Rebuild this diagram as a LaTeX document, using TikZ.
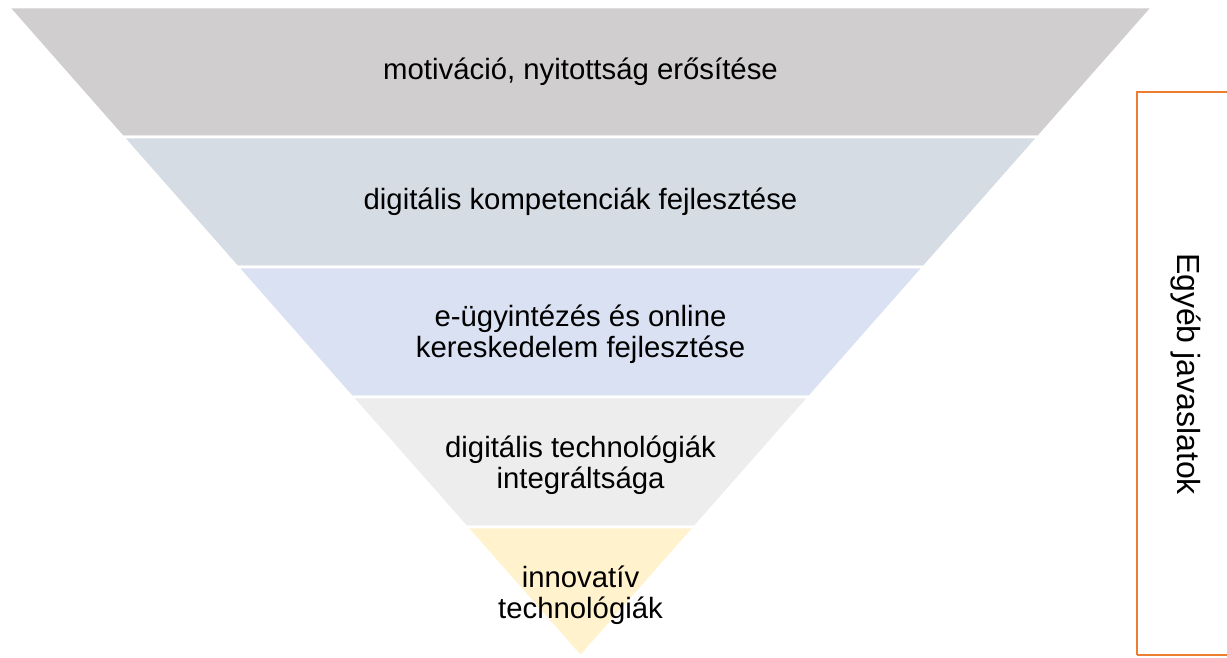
\documentclass[tikz,border=0pt]{standalone}
\usepackage{fontspec}
\setmainfont{Liberation Sans}
\definecolor{tier1}{HTML}{D0CECE}
\definecolor{tier2}{HTML}{D6DCE4}
\definecolor{tier3}{HTML}{D9E1F2}
\definecolor{tier4}{HTML}{EDEDED}
\definecolor{tier5}{HTML}{FFF2CC}
\definecolor{frame}{HTML}{ED7D31}
\begin{document}
\begin{tikzpicture}[x=0.75pt,y=-0.75pt]
  \tikzstyle{tier}=[draw=white, line width=2.2pt, line join=miter]
  \tikzstyle{tiertext}=[align=center, inner sep=0pt, font=\fontsize{22}{23}\selectfont]

  \useasboundingbox (0,0) rectangle (1227,657);
  \clip (0,0) rectangle (1227,657);

  % inverted pyramid, five tiers
  \filldraw[tier, fill=tier1] (8,7) -- (1153,7) -- (1038.5,137) -- (122.5,137) -- cycle;
  \filldraw[tier, fill=tier2] (122.5,137) -- (1038.5,137) -- (924,267) -- (237,267) -- cycle;
  \filldraw[tier, fill=tier3] (237,267) -- (924,267) -- (809.5,397) -- (351.5,397) -- cycle;
  \filldraw[tier, fill=tier4] (351.5,397) -- (809.5,397) -- (695,527) -- (466,527) -- cycle;
  \filldraw[tier, fill=tier5] (466,527) -- (695,527) -- (580.5,657) -- cycle;

  \node[tiertext] (t1) at (580.5,72) {motiváció, nyitottság erősítése};
  \node[tiertext] (t2) at (580.5,202) {digitális kompetenciák fejlesztése};
  \node[tiertext] (t3) at (580.5,334) {e-ügyintézés és online\\kereskedelem fejlesztése};
  \node[tiertext] (t4) at (580.5,465) {digitális technológiák\\integráltsága};
  \node[tiertext] (t5) at (580.5,595) {innovatív\\technológiák};

  % side box
  \draw[frame, line width=1.6pt] (1137,655) -- (1137,92) -- (1240,92);
  \draw[frame, line width=1.6pt] (1137,655) -- (1240,655);
  \node[tiertext, font=\fontsize{24}{26}\selectfont, rotate=-90] (other) at (1186,374) {Egyéb javaslatok};
\end{tikzpicture}
\end{document}
